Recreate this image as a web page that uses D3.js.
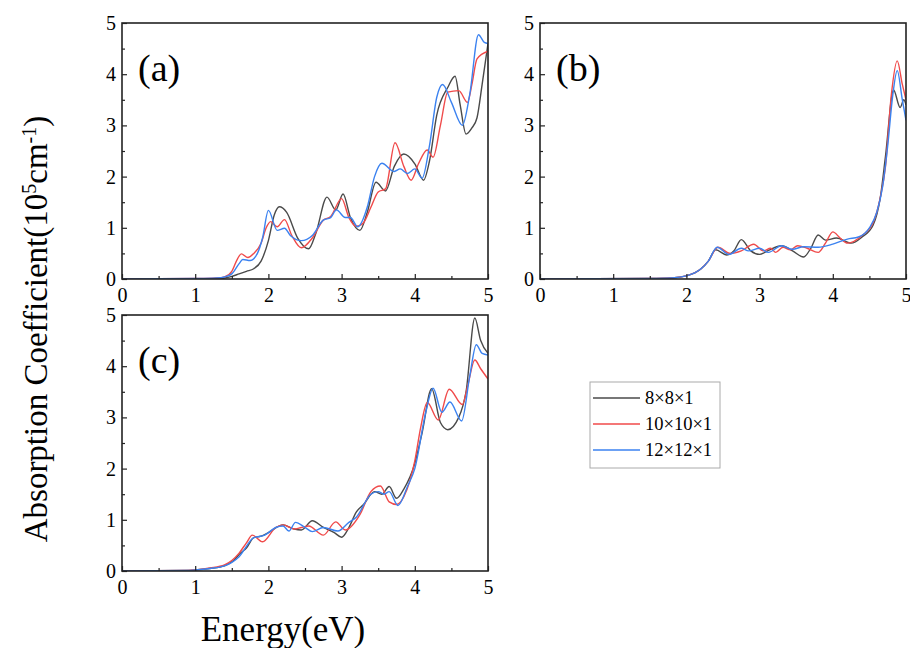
<!DOCTYPE html>
<html><head><meta charset="utf-8">
<script src="https://cdn.jsdelivr.net/npm/d3@7"></script>
<style>body{margin:0;background:#fff}svg{display:block}text{font-family:"Liberation Serif","Times New Roman",serif;fill:#000}</style>
</head><body><svg id="c" width="910" height="648"></svg>
<script>
const seriesNames = ["8×8×1","10×10×1","12×12×1"];
const colors = ["#4a4a4a","#f04a4a","#3b82f0"];
const xTicks = [0,1,2,3,4,5];
const yTicks = [0,1,2,3,4,5];

// panel (a)
const aBlack = [[0,0],[1,0],[1.3,0.01],[1.4,0.02],[1.5,0.05],[1.6,0.1],[1.7,0.15],[1.8,0.2],[1.9,0.35],[2.0,0.75],[2.08,1.25],[2.15,1.41],[2.25,1.3],[2.4,0.8],[2.55,0.59],[2.65,0.9],[2.8,1.6],[2.92,1.35],[3.02,1.66],[3.12,1.2],[3.25,0.95],[3.35,1.3],[3.47,1.89],[3.6,1.72],[3.72,2.2],[3.85,2.44],[4.0,2.25],[4.12,1.93],[4.2,2.3],[4.3,3.2],[4.45,3.74],[4.55,3.96],[4.62,3.4],[4.7,2.83],[4.78,2.95],[4.85,3.15],[4.92,3.8],[5.0,4.6]];
const aRed = [[0,0],[1,0.01],[1.3,0.02],[1.4,0.04],[1.5,0.15],[1.58,0.4],[1.63,0.49],[1.72,0.42],[1.8,0.5],[1.9,0.7],[1.97,1.0],[2.03,1.12],[2.12,1.02],[2.22,1.16],[2.32,0.85],[2.45,0.61],[2.6,0.8],[2.75,1.15],[2.85,1.22],[3.0,1.57],[3.1,1.2],[3.2,1.03],[3.3,1.1],[3.4,1.4],[3.5,1.7],[3.6,1.76],[3.73,2.66],[3.85,2.2],[3.95,1.93],[4.05,2.25],[4.17,2.52],[4.25,2.38],[4.35,3.0],[4.45,3.65],[4.6,3.68],[4.72,3.45],[4.78,3.8],[4.85,4.3],[5.0,4.45]];
const aBlue = [[0,0],[1,0.01],[1.3,0.02],[1.4,0.04],[1.5,0.1],[1.6,0.3],[1.65,0.38],[1.75,0.36],[1.85,0.5],[1.92,0.8],[2.0,1.34],[2.12,0.95],[2.22,0.99],[2.3,0.85],[2.45,0.75],[2.6,0.85],[2.75,1.15],[2.85,1.2],[2.93,1.35],[3.05,1.2],[3.12,1.2],[3.22,1.02],[3.35,1.4],[3.45,2.0],[3.55,2.26],[3.72,2.1],[3.8,2.15],[3.9,2.06],[4.0,2.15],[4.1,1.97],[4.2,2.6],[4.3,3.55],[4.38,3.8],[4.5,3.45],[4.65,3.0],[4.75,3.6],[4.87,4.77],[4.95,4.62],[5.0,4.6]];

// panel (b)
const bBlack = [[0,0],[1.5,0.01],[1.8,0.02],[2.0,0.06],[2.2,0.2],[2.3,0.35],[2.4,0.57],[2.55,0.47],[2.65,0.55],[2.75,0.77],[2.88,0.55],[3.0,0.48],[3.12,0.56],[3.3,0.65],[3.45,0.55],[3.6,0.43],[3.7,0.6],[3.8,0.86],[3.9,0.76],[4.05,0.8],[4.25,0.7],[4.4,0.82],[4.55,1.05],[4.65,1.6],[4.72,2.4],[4.83,3.69],[4.92,3.35],[4.97,3.5],[5.0,3.4]];
const bRed = [[0,0],[1.5,0.01],[1.8,0.02],[2.0,0.06],[2.2,0.2],[2.3,0.35],[2.43,0.62],[2.6,0.5],[2.75,0.55],[2.92,0.68],[3.05,0.55],[3.15,0.6],[3.22,0.52],[3.32,0.62],[3.42,0.57],[3.52,0.65],[3.65,0.6],[3.8,0.52],[3.9,0.7],[4.0,0.92],[4.1,0.8],[4.2,0.7],[4.4,0.85],[4.55,1.1],[4.65,1.6],[4.72,2.2],[4.8,3.6],[4.88,4.26],[4.95,3.8],[5.0,3.5]];
const bBlue = [[0,0],[1.5,0.01],[1.8,0.02],[2.0,0.06],[2.2,0.2],[2.3,0.35],[2.42,0.62],[2.58,0.48],[2.75,0.6],[2.85,0.55],[3.0,0.6],[3.12,0.52],[3.3,0.65],[3.45,0.58],[3.6,0.63],[3.8,0.62],[4.0,0.68],[4.2,0.78],[4.35,0.82],[4.5,1.0],[4.6,1.3],[4.68,1.8],[4.75,2.6],[4.82,3.6],[4.88,4.07],[4.95,3.5],[5.0,3.1]];

// panel (c)
const cBlack = [[0,0],[0.9,0.01],[1.0,0.02],[1.2,0.05],[1.4,0.1],[1.52,0.2],[1.62,0.35],[1.7,0.45],[1.8,0.65],[1.9,0.68],[2.0,0.75],[2.2,0.9],[2.35,0.82],[2.45,0.8],[2.6,0.98],[2.75,0.85],[2.9,0.75],[3.0,0.66],[3.1,0.85],[3.2,1.15],[3.3,1.3],[3.45,1.55],[3.55,1.5],[3.65,1.65],[3.75,1.42],[3.85,1.6],[4.0,2.1],[4.1,2.7],[4.23,3.56],[4.35,2.9],[4.45,2.76],[4.6,3.0],[4.7,3.5],[4.82,4.94],[4.9,4.5],[5.0,4.25]];
const cRed = [[0,0],[0.9,0.01],[1.0,0.02],[1.2,0.06],[1.4,0.12],[1.6,0.35],[1.7,0.55],[1.78,0.7],[1.92,0.57],[2.1,0.85],[2.2,0.9],[2.35,0.82],[2.45,0.85],[2.55,0.88],[2.75,0.7],[2.92,0.96],[3.05,0.8],[3.25,1.1],[3.4,1.55],[3.53,1.66],[3.65,1.35],[3.75,1.3],[3.85,1.45],[4.0,2.15],[4.08,2.8],[4.17,3.29],[4.32,2.95],[4.47,3.55],[4.65,3.25],[4.72,3.6],[4.82,4.12],[4.9,3.95],[5.0,3.75]];
const cBlue = [[0,0],[0.9,0.01],[1.0,0.02],[1.2,0.05],[1.4,0.1],[1.6,0.28],[1.8,0.65],[1.95,0.7],[2.1,0.85],[2.2,0.88],[2.28,0.78],[2.37,0.95],[2.5,0.85],[2.6,0.77],[2.75,0.85],[2.95,0.78],[3.1,0.95],[3.2,1.05],[3.4,1.5],[3.5,1.55],[3.58,1.5],[3.65,1.55],[3.77,1.28],[3.9,1.65],[4.0,2.0],[4.15,3.1],[4.25,3.57],[4.37,3.1],[4.48,3.3],[4.64,2.93],[4.75,3.8],[4.84,4.42],[4.92,4.25],[5.0,4.22]];

const panels = [
  {label:"(a)", x0:122, y0:23, w:366, h:256, data:[aBlack,aRed,aBlue]},
  {label:"(b)", x0:540, y0:23, w:366, h:256, data:[bBlack,bRed,bBlue]},
  {label:"(c)", x0:122, y0:315, w:366, h:256, data:[cBlack,cRed,cBlue]}
];

const svg = d3.select("#c");

panels.forEach(p => {
  const g = svg.append("g").attr("transform",`translate(${p.x0},${p.y0})`);
  const x = d3.scaleLinear().domain([0,5]).range([0,p.w]);
  const y = d3.scaleLinear().domain([0,5]).range([p.h,0]);
  const cp = "clip"+p.label.replace(/\W/g,"");
  g.append("clipPath").attr("id",cp).append("rect").attr("width",p.w).attr("height",p.h);
  const line = d3.line().x(d=>x(d[0])).y(d=>y(d[1])).curve(d3.curveMonotoneX);
  const lg = g.append("g").attr("clip-path",`url(#${cp})`);
  p.data.forEach((s,i)=>{
    lg.append("path").datum(s).attr("d",line).attr("fill","none")
      .attr("stroke",colors[i]).attr("stroke-width",1.4);
  });
  const minor = d3.range(0.5,5,1);
  const xa = d3.axisBottom(x).tickValues(xTicks).tickSizeInner(-5).tickSizeOuter(0).tickPadding(9).tickFormat(d3.format("d"));
  const xm = d3.axisBottom(x).tickValues(minor).tickSizeInner(-3).tickSizeOuter(0).tickFormat("");
  const ya = d3.axisLeft(y).tickValues(yTicks).tickSizeInner(-5).tickSizeOuter(0).tickPadding(6).tickFormat(d3.format("d"));
  const ym = d3.axisLeft(y).tickValues(minor).tickSizeInner(-3).tickSizeOuter(0).tickFormat("");
  [ [xa,`translate(0,${p.h})`], [xm,`translate(0,${p.h})`], [ya,null], [ym,null] ].forEach(([ax,t])=>{
    const a = g.append("g"); if(t) a.attr("transform",t);
    a.call(ax);
    a.select(".domain").remove();
    a.selectAll("line").attr("stroke","#222").attr("stroke-width",1.2);
    a.selectAll("text").style("font-family",'"Liberation Serif",serif').style("font-size","20px").attr("fill","#000");
  });
  g.append("rect").attr("width",p.w).attr("height",p.h).attr("fill","none").attr("stroke","#222").attr("stroke-width",1.6);
  g.append("text").attr("x",16).attr("y",58).style("font-size","38px").text(p.label);
});

// axis titles
svg.append("text").attr("transform","translate(47,329) rotate(-90)").attr("text-anchor","middle")
  .style("font-size","33px").html('Absorption Coefficient(10<tspan baseline-shift="super" font-size="20px">5</tspan>cm<tspan baseline-shift="super" font-size="20px">-1</tspan>)');
svg.append("text").attr("x",283).attr("y",641).attr("text-anchor","middle").style("font-size","35px").text("Energy(eV)");

// legend
const lgd = svg.append("g").attr("transform","translate(590,382)");
lgd.append("rect").attr("width",130).attr("height",86).attr("fill","#fff").attr("stroke","#aaa").attr("stroke-width",1);
seriesNames.forEach((n,i)=>{
  const yy = 16 + i*26;
  lgd.append("line").attr("x1",3).attr("x2",50).attr("y1",yy).attr("y2",yy).attr("stroke",colors[i]).attr("stroke-width",1.4);
  lgd.append("text").attr("x",55).attr("y",yy+6).style("font-size","18.5px").text(n);
});
</script></body></html>
